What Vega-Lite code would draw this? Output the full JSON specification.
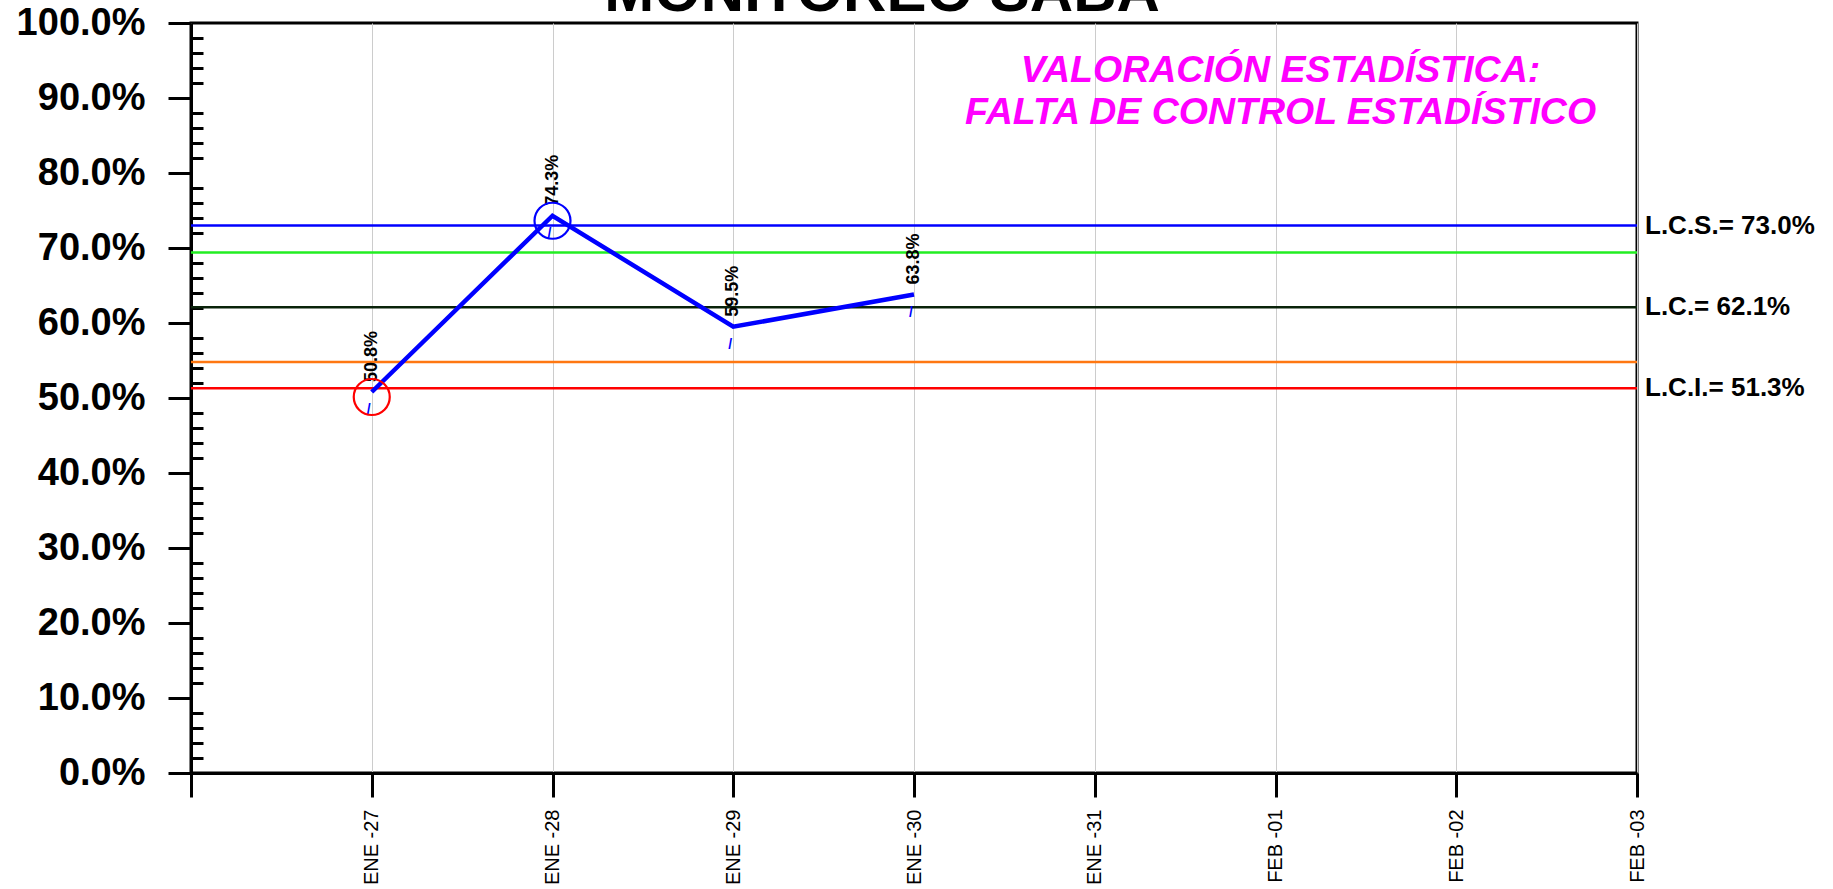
{
  "$schema": "https://vega.github.io/schema/vega-lite/v6.json",
  "width": 1446,
  "height": 750,
  "autosize": {"type": "none"},
  "padding": {"left": 191, "top": 23, "right": 196, "bottom": 116},
  "background": "white",
  "config": {
    "font": "Liberation Sans",
    "view": {"stroke": "black", "strokeWidth": 3}
  },
  "datasets": {
    "serie": [
      {"fecha": "2025-01-27T00:00:00", "pct": 0.508, "estado": "bajo"},
      {"fecha": "2025-01-28T00:00:00", "pct": 0.743, "estado": "alto"},
      {"fecha": "2025-01-29T00:00:00", "pct": 0.595, "estado": "normal"},
      {"fecha": "2025-01-30T00:00:00", "pct": 0.638, "estado": "normal"}
    ],
    "limites": [
      {"linea": "LCS", "valor": 0.730, "etiqueta": "L.C.S.= 73.0%"},
      {"linea": "S2", "valor": 0.694, "etiqueta": ""},
      {"linea": "LC", "valor": 0.621, "etiqueta": "L.C.= 62.1%"},
      {"linea": "I2", "valor": 0.548, "etiqueta": ""},
      {"linea": "LCI", "valor": 0.513, "etiqueta": "L.C.I.= 51.3%"}
    ],
    "nota": [
      {"fecha": "2025-02-01T00:00:00", "pos": 0.922, "texto": "VALORACIÓN ESTADÍSTICA:\nFALTA DE CONTROL ESTADÍSTICO"}
    ],
    "titulo": [
      {"texto": "MONITOREO SABA"}
    ]
  },
  "resolve": {"scale": {"color": "independent"}, "axis": {"y": "independent"}},
  "layer": [
    {
      "data": {"name": "limites"},
      "mark": {"type": "rule", "strokeWidth": 2.5},
      "encoding": {
        "y": {
          "field": "valor",
          "type": "quantitative",
          "scale": {"domain": [0, 1], "nice": false, "zero": true},
          "axis": {
            "orient": "left",
            "values": [0, 0.1, 0.2, 0.3, 0.4, 0.5, 0.6, 0.7, 0.8, 0.9, 1.0],
            "format": ".1%",
            "labelFont": "Liberation Sans",
            "labelFontSize": 38,
            "labelFontWeight": "bold",
            "labelColor": "black",
            "labelPadding": 23,
            "labelOverlap": false,
            "labelFlush": false,
            "labelBound": false,
            "tickSize": 23,
            "tickWidth": 3,
            "tickColor": "black",
            "domainColor": "black",
            "domainWidth": 3,
            "grid": false,
            "title": null
          }
        },
        "color": {
          "field": "linea",
          "type": "nominal",
          "scale": {"domain": ["LCS", "S2", "LC", "I2", "LCI"], "range": ["#0000ff", "#22ee22", "#0a230a", "#ff7711", "#ff0000"]},
          "legend": null
        }
      }
    },
    {
      "data": {"name": "serie"},
      "mark": {"type": "text", "text": "/", "fontSize": 14, "fontWeight": "bold", "color": "#0000ff", "dy": 18, "dx": -3, "align": "center", "baseline": "middle"},
      "encoding": {
        "x": {"field": "fecha", "type": "temporal"},
        "y": {
          "field": "pct",
          "type": "quantitative",
          "axis": {
            "orient": "left",
            "values": [0.02, 0.04, 0.06, 0.08, 0.12, 0.14, 0.16, 0.18, 0.22, 0.24, 0.26, 0.28, 0.32, 0.34, 0.36, 0.38, 0.42, 0.44, 0.46, 0.48, 0.52, 0.54, 0.56, 0.58, 0.62, 0.64, 0.66, 0.68, 0.72, 0.74, 0.76, 0.78, 0.82, 0.84, 0.86, 0.88, 0.92, 0.94, 0.96, 0.98],
            "labels": false,
            "domain": false,
            "grid": false,
            "tickSize": -12,
            "tickWidth": 3,
            "tickColor": "black",
            "title": null
          }
        }
      }
    },
    {
      "data": {"name": "limites"},
      "transform": [{"filter": "datum.etiqueta != ''"}],
      "mark": {"type": "text", "align": "left", "baseline": "middle", "dx": 8, "fontSize": 26, "fontWeight": "bold", "color": "black"},
      "encoding": {
        "x": {"datum": {"year": 2025, "month": 2, "date": 3}, "type": "temporal"},
        "y": {"field": "valor", "type": "quantitative", "axis": null},
        "text": {"field": "etiqueta", "type": "nominal"}
      }
    },
    {
      "data": {"name": "serie"},
      "mark": {"type": "line", "color": "#0000ff", "strokeWidth": 4.5},
      "encoding": {
        "x": {
          "field": "fecha",
          "type": "temporal",
          "scale": {"domain": [{"year": 2025, "month": 1, "date": 26}, {"year": 2025, "month": 2, "date": 3}], "nice": false},
          "axis": {
            "values": [
              {"year": 2025, "month": 1, "date": 26},
              {"year": 2025, "month": 1, "date": 27},
              {"year": 2025, "month": 1, "date": 28},
              {"year": 2025, "month": 1, "date": 29},
              {"year": 2025, "month": 1, "date": 30},
              {"year": 2025, "month": 1, "date": 31},
              {"year": 2025, "month": 2, "date": 1},
              {"year": 2025, "month": 2, "date": 2},
              {"year": 2025, "month": 2, "date": 3}
            ],
            "labelExpr": "(date(datum.value) == 26 && month(datum.value) == 0) ? '' : (month(datum.value) == 0 ? 'ENE' : 'FEB') + ' -' + timeFormat(datum.value, '%d')",
            "labelAngle": 270,
            "labelAlign": "right",
            "labelBaseline": "middle",
            "labelFont": "Liberation Sans",
            "labelFontSize": 20,
            "labelColor": "black",
            "labelPadding": 12,
            "labelOverlap": false,
            "labelFlush": false,
            "labelBound": false,
            "tickSize": 24,
            "tickWidth": 3,
            "tickColor": "black",
            "domainColor": "black",
            "domainWidth": 3,
            "grid": true,
            "gridColor": "#cccccc",
            "gridWidth": 1,
            "title": null
          }
        },
        "y": {"field": "pct", "type": "quantitative", "axis": null}
      }
    },
    {
      "data": {"name": "serie"},
      "mark": {"type": "text", "angle": 270, "align": "left", "baseline": "middle", "dx": 10, "fontSize": 18, "fontWeight": "bold", "color": "black"},
      "encoding": {
        "x": {"field": "fecha", "type": "temporal"},
        "y": {"field": "pct", "type": "quantitative", "axis": null},
        "text": {"field": "pct", "type": "quantitative", "format": ".1%"}
      }
    },
    {
      "data": {"name": "serie"},
      "transform": [{"filter": "datum.estado != 'normal'"}],
      "mark": {"type": "point", "shape": "circle", "filled": false, "size": 1296, "strokeWidth": 2.2, "yOffset": 5, "opacity": 1},
      "encoding": {
        "x": {"field": "fecha", "type": "temporal"},
        "y": {"field": "pct", "type": "quantitative", "axis": null},
        "color": {
          "field": "estado",
          "type": "nominal",
          "scale": {"domain": ["bajo", "alto"], "range": ["#ff0000", "#0000ff"]},
          "legend": null
        }
      }
    },
    {
      "data": {"name": "nota"},
      "mark": {"type": "text", "lineBreak": "\n", "align": "center", "baseline": "alphabetic", "dx": 5, "lineHeight": 42, "fontSize": 37.5, "fontWeight": "bold", "fontStyle": "italic", "color": "#ff00ff"},
      "encoding": {
        "x": {"field": "fecha", "type": "temporal"},
        "y": {"field": "pos", "type": "quantitative", "axis": null},
        "text": {"field": "texto", "type": "nominal"}
      }
    },
    {
      "data": {"name": "titulo"},
      "mark": {"type": "text", "align": "center", "baseline": "alphabetic", "dx": -32, "dy": -12, "fontSize": 60, "fontWeight": "bold", "color": "black"},
      "encoding": {
        "x": {"datum": {"year": 2025, "month": 1, "date": 30}, "type": "temporal"},
        "y": {"datum": 1, "type": "quantitative", "axis": null},
        "text": {"field": "texto", "type": "nominal"}
      }
    }
  ]
}
